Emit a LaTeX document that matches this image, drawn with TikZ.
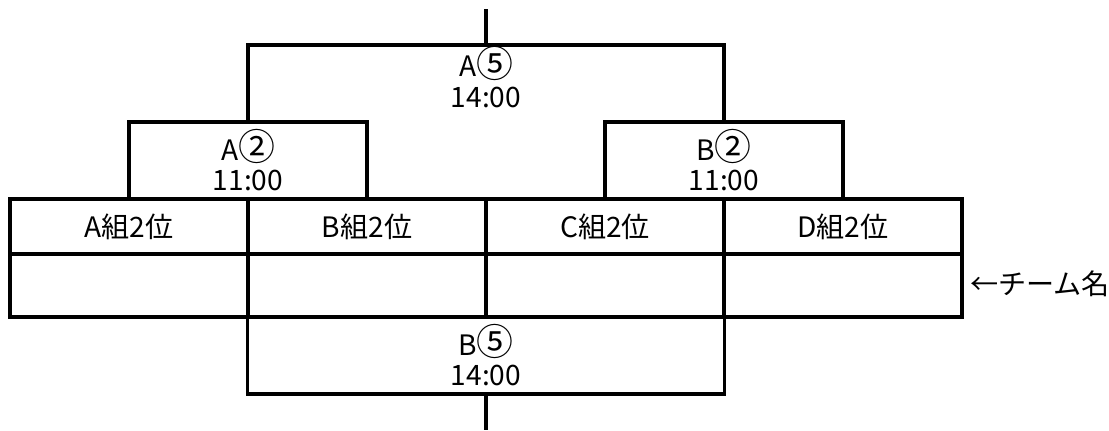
\documentclass[tikz,border=0pt]{standalone}
\usepackage{fontspec}
\setmainfont{Noto Sans CJK JP}
\usetikzlibrary{positioning}
\tikzset{%
  cell/.style={draw,line width=2pt,minimum width=4.76cm,minimum height=#1,inner sep=0pt,outer sep=0pt},
  cell/.default=1.1cm,
  game/.style={draw,line width=2pt,minimum width=#1,minimum height=1.54cm,inner sep=0pt,outer sep=0pt,align=center},
  game/.default=4.76cm,
  wire/.style={line width=2pt}
}
\NewDocumentCommand\cnum{m}{{\fontsize{21}{17.6}\selectfont\raisebox{-0.5pt}{#1}}}
\begin{document}
\begin{tikzpicture}[x=0.02cm,y=-0.02cm,font=\fontsize{16}{17.6}\selectfont]
  \useasboundingbox (0,0) rectangle (1109,430);
  %% table
  \foreach \x/\g [count=\i] in {129/A,367/B,605/C,843/D}{
    \node[cell] (g\i) at (\x,226.5) {\g{}組2位};
    \node[cell=1.26cm] (n\i) at (\x,285.5) {};
  }
  \node[anchor=west,inner sep=0pt] (lbl) at (970,284) {←チーム名};
  %% first round
  \node[game] (a2) at (248,160.5) {A\cnum{②}\\11:00};
  \node[game] (b2) at (724,160.5) {B\cnum{②}\\11:00};
  \node[game=9.54cm] (b5) at (486,355.5) {B\cnum{⑤}\\14:00};
  %% final
  \coordinate (top) at (486,45);
  \coordinate (s0) at (486,9);
  \coordinate (s1) at (486,430);
  \node[align=center] (a5) at (486,77) {A\cnum{⑤}\\14:00};
  \draw[wire] (a2.north) |- (top) -| (b2.north);
  \draw[wire] (top) -- (s0);
  \draw[wire] (b5.south) -- (s1);
\end{tikzpicture}
\end{document}
